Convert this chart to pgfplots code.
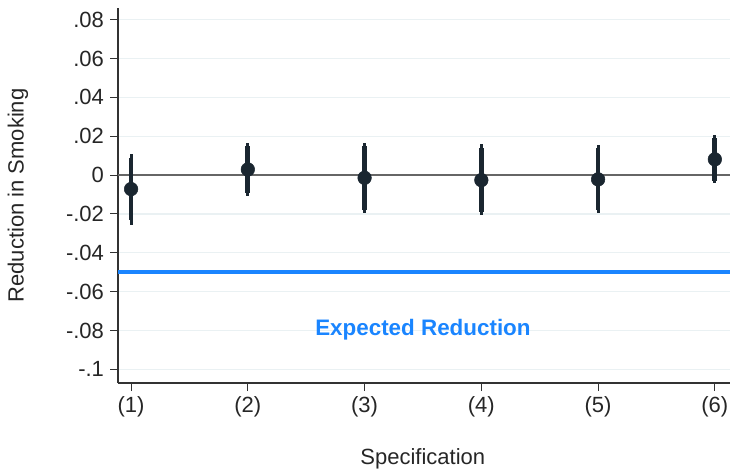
\documentclass[border=0pt]{standalone}
\usepackage{pgfplots}
\pgfplotsset{compat=1.18}
\usepackage{fontspec}
\setmainfont{Liberation Sans}
\definecolor{markc}{RGB}{26,38,48}
\definecolor{blueline}{RGB}{26,133,255}
\definecolor{gridc}{RGB}{234,241,243}
\definecolor{axc}{RGB}{50,50,50}
\begin{document}
\begin{tikzpicture}
\begin{axis}[
  at={(88.5pt,66pt)}, anchor=south west,
  scale only axis, width=459pt, height=281.25pt,
  xmin=0.888, xmax=6.13, ymin=-0.107, ymax=0.086,
  axis x line=bottom, axis y line=left,
  axis line style={-, axc, line width=0.9pt},
  xtick={1,2,3,4,5,6},
  xticklabels={(1),(2),(3),(4),(5),(6)},
  ytick={-0.1,-0.08,-0.06,-0.04,-0.02,0,0.02,0.04,0.06,0.08},
  yticklabels={-.1,-.08,-.06,-.04,-.02,0,.02,.04,.06,.08},
  tick align=outside, major tick length=6pt,
  tick style={axc, line width=0.8pt},
  ymajorgrids, grid style={gridc, line width=0.9pt},
  ticklabel style={font=\fontsize{16.5}{19}\selectfont, text=black!85},
  yticklabel style={xshift=-1pt},
  xticklabel style={yshift=-1pt},
  xlabel={Specification}, ylabel={Reduction in Smoking},
  label style={font=\fontsize{16.5}{19}\selectfont, text=black!85},
  xlabel style={at={(axis description cs:0.498,-0.2027)}, anchor=center},
  ylabel style={at={(axis description cs:-0.1634,0.5)}, anchor=center},
  clip=false,
]
% reference lines
\addplot[gray!80!black, line width=1.1pt, forget plot] coordinates {(0.888,0) (6.13,0)};
\addplot[blueline, line width=3pt, forget plot] coordinates {(0.888,-0.05) (6.13,-0.05)};
% outer intervals (thin)
\addplot[draw=none, mark=none, error bars/.cd, y dir=both, y explicit,
  error mark=none, error bar style={markc, line width=2.2pt}]
  table[x=x, y=y, y error plus=ep, y error minus=em] {
x y ep em
1 -0.0072 0.0180 0.0186
2 0.0029 0.0138 0.0137
3 -0.0014 0.0181 0.0183
4 -0.0026 0.0184 0.0180
5 -0.0022 0.0177 0.0172
6 0.0081 0.0125 0.0124
};
% inner intervals (thick)
\addplot[draw=none, mark=none, error bars/.cd, y dir=both, y explicit,
  error mark=none, error bar style={markc, line width=3.6pt}]
  table[x=x, y=y, y error plus=ep, y error minus=em] {
x y ep em
1 -0.0072 0.0160 0.0158
2 0.0029 0.0121 0.0120
3 -0.0014 0.0164 0.0166
4 -0.0026 0.0168 0.0164
5 -0.0022 0.0161 0.0156
6 0.0081 0.0109 0.0109
};
% point estimates
\addplot[only marks, mark=*, mark size=5.1pt, markc] coordinates {
(1,-0.0072) (2,0.0029) (3,-0.0014) (4,-0.0026) (5,-0.0022) (6,0.0081)};
\node[text=blueline, font=\bfseries\fontsize{16.8}{19}\selectfont] at (axis cs:3.5,-0.0794) {Expected Reduction};
\end{axis}
\pgfresetboundingbox
\path (0,0) rectangle (547.5pt,353.25pt);
\end{tikzpicture}
\end{document}
